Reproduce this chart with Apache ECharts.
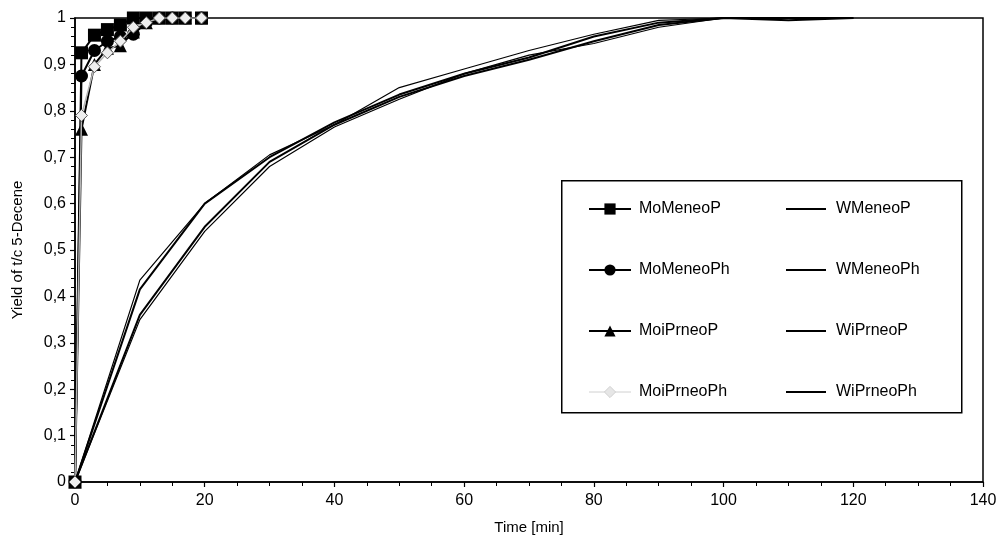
<!DOCTYPE html>
<html>
<head>
<meta charset="utf-8">
<script src="https://cdn.jsdelivr.net/npm/echarts@6/dist/echarts.min.js"></script>
<style>html,body{margin:0;padding:0;background:#fff}#c{width:1000px;height:540px}</style>
</head>
<body>
<div id="c"></div>
<script>
// ---- data ----
const timesMo = [0, 1, 3, 5, 7, 9, 11, 13, 15, 17, 19.5];
const moMeneoP   = [0, 0.925, 0.963, 0.975, 0.985, 1, 1, 1, 1, 1, 1];
const moMeneoPh  = [0, 0.875, 0.93, 0.95, 0.96, 0.965, 0.99, 1, 1, 1, 1];
const moiPrneoP  = [0, 0.76, 0.9, 0.935, 0.94, 0.97, 0.99, 1, 1, 1, 1];
const moiPrneoPh = [0, 0.79, 0.895, 0.925, 0.95, 0.98, 0.99, 1, 1, 1, 1];

const timesW = [0, 10, 20, 30, 40, 50, 60, 70, 80, 90, 100, 110, 120];
const wMeneoP   = [0, 0.36, 0.55, 0.69, 0.77, 0.83, 0.875, 0.91, 0.95, 0.985, 1, 0.995, 1];
const wMeneoPh  = [0, 0.35, 0.54, 0.68, 0.765, 0.825, 0.88, 0.92, 0.945, 0.98, 1, 1, 1];
const wiPrneoP  = [0, 0.415, 0.6, 0.7, 0.775, 0.835, 0.88, 0.915, 0.96, 0.99, 1, 1, 1];
const wiPrneoPh = [0, 0.435, 0.6, 0.705, 0.77, 0.85, 0.89, 0.93, 0.965, 0.995, 1, 1, 1];

const moNames = ['MoMeneoP', 'MoMeneoPh', 'MoiPrneoP', 'MoiPrneoPh'];
const wNames = ['WMeneoP', 'WMeneoPh', 'WiPrneoP', 'WiPrneoPh'];

const xTicks = { min: 0, max: 140, interval: 20 };
const yTicks = { min: 0, max: 1, interval: 0.1 };

// ---- build ----
const zip = (xs, ys) => xs.map((x, i) => [x, ys[i]]);
const FONT = '"Liberation Sans", Arial, sans-serif';

function moSeries(name, data, symbol, size) {
  return {
    name, type: 'line', data: zip(timesMo, data), symbol, symbolSize: size,
    lineStyle: { color: '#000', width: 2 }, itemStyle: { color: '#000' },
    z: 3
  };
}
function wSeries(name, data, width) {
  return {
    name, type: 'line', data: zip(timesW, data), symbol: 'none',
    lineStyle: { color: '#000', width }, itemStyle: { color: '#000' }, z: 2
  };
}

const chart = echarts.init(document.getElementById('c'), null, { renderer: 'canvas' });
chart.setOption({
  animation: false,
  backgroundColor: '#fff',
  textStyle: { fontFamily: FONT, color: '#000' },
  grid: { left: 75, right: 17, top: 18, bottom: 58, show: true, borderColor: '#000', borderWidth: 1.5, backgroundColor: 'transparent' },
  graphic: [{
    type: 'rect', left: 561, top: 180, z: 5,
    shape: { width: 400, height: 232 },
    style: { fill: '#fff', stroke: '#000', lineWidth: 1.5 }
  }],
  xAxis: {
    type: 'value', min: xTicks.min, max: xTicks.max, interval: xTicks.interval,
    name: 'Time [min]', nameLocation: 'middle', nameGap: 38,
    nameTextStyle: { fontSize: 15, color: '#000', fontFamily: FONT },
    axisLine: { show: true, onZero: false, lineStyle: { color: '#000', width: 1.5 } },
    axisTick: { show: true, length: 5, lineStyle: { color: '#000', width: 1.2 } },
    minorTick: { show: true, splitNumber: 4, length: 4, lineStyle: { color: '#000', width: 1 } },
    splitLine: { show: false },
    axisLabel: { fontSize: 16, color: '#000', margin: 11, fontFamily: FONT }
  },
  yAxis: {
    type: 'value', min: yTicks.min, max: yTicks.max, interval: yTicks.interval,
    name: 'Yield of t/c 5-Decene', nameLocation: 'middle', nameGap: 50, nameRotate: 90,
    nameTextStyle: { fontSize: 15, color: '#000', fontFamily: FONT },
    axisLine: { show: true, onZero: false, lineStyle: { color: '#000', width: 1.5 } },
    axisTick: { show: true, length: 5, lineStyle: { color: '#000', width: 1.2 } },
    minorTick: { show: true, splitNumber: 5, length: 4, lineStyle: { color: '#000', width: 1 } },
    splitLine: { show: false },
    axisLabel: {
      fontSize: 16, color: '#000', margin: 9, fontFamily: FONT,
      formatter: v => String(+v.toFixed(1)).replace('.', ',')
    }
  },
  legend: [{
    orient: 'vertical', left: 583, top: 196, itemWidth: 42, itemHeight: 14, itemGap: 45,
    z: 10,
    textStyle: { fontSize: 16, color: '#000', fontFamily: FONT, lineHeight: 16, padding: [0, 0, 0, 3] },
    data: [
      { name: moNames[0] }, { name: moNames[1] }, { name: moNames[2] },
      { name: moNames[3], itemStyle: { color: '#e6e6e6', borderColor: '#d0d0d0', borderWidth: 1 }, lineStyle: { color: '#d0d0d0', width: 1 } }
    ]
  }, {
    orient: 'vertical', left: 780, top: 196, itemWidth: 40, itemHeight: 14, itemGap: 45,
    z: 10,
    textStyle: { fontSize: 16, color: '#000', fontFamily: FONT, lineHeight: 16, padding: [0, 0, 0, 5] },
    data: wNames.map(n => ({ name: n, itemStyle: { color: 'transparent', borderColor: 'transparent', borderWidth: 0 } }))
  }],
  series: [
    wSeries(wNames[0], wMeneoP, 2),
    wSeries(wNames[1], wMeneoPh, 1.2),
    wSeries(wNames[2], wiPrneoP, 2),
    wSeries(wNames[3], wiPrneoPh, 1.2),
    moSeries(moNames[0], moMeneoP, 'rect', 13),
    moSeries(moNames[1], moMeneoPh, 'circle', 13),
    moSeries(moNames[2], moiPrneoP, 'triangle', 13),
    {
      name: moNames[3], type: 'line', data: zip(timesMo, moiPrneoPh), symbol: 'diamond', symbolSize: 12,
      lineStyle: { color: '#b5b5b5', width: 1.5 },
      itemStyle: { color: '#eeeeee', borderColor: '#555', borderWidth: 1 }, z: 4
    }
  ]
});
</script>
</body>
</html>
